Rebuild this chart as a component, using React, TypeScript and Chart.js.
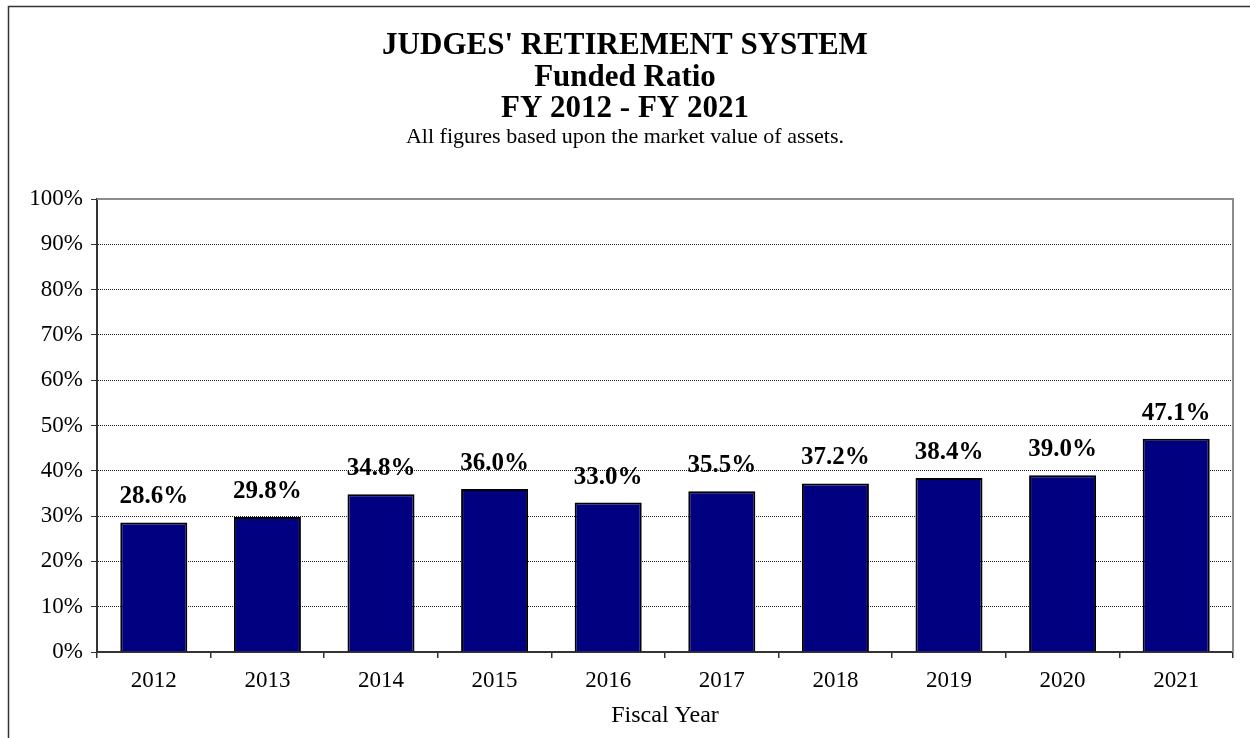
import React, { useEffect, useRef } from "react";
import { Chart, registerables } from "chart.js";

Chart.register(...registerables);

const categories = ["2012", "2013", "2014", "2015", "2016", "2017", "2018", "2019", "2020", "2021"];
const fundedRatio = [28.6, 29.8, 34.8, 36.0, 33.0, 35.5, 37.2, 38.4, 39.0, 47.1];
const titleLines = ["JUDGES' RETIREMENT SYSTEM", "Funded Ratio", "FY 2012 - FY 2021"];
const subtitleText = "All figures based upon the market value of assets.";
const xAxisTitle = "Fiscal Year";

const SERIF = "'Liberation Serif', 'Times New Roman', serif";

const decorPlugin = {
  id: "decor",
  beforeDraw(chart: any) {
    const ctx = chart.ctx;
    ctx.save();
    ctx.fillStyle = "#ffffff";
    ctx.fillRect(0, 0, chart.width, chart.height);
    // outer frame
    ctx.strokeStyle = "#333333";
    ctx.lineWidth = 1.5;
    ctx.strokeRect(8.5, 6.5, chart.width + 20, chart.height + 20);
    // titles
    ctx.fillStyle = "#000000";
    ctx.textAlign = "center";
    ctx.textBaseline = "alphabetic";
    const cx = 625;
    ctx.font = `bold 31px ${SERIF}`;
    titleLines.forEach((t, i) => ctx.fillText(t, cx, 54 + i * 31.5));
    ctx.font = `22px ${SERIF}`;
    ctx.fillText(subtitleText, cx, 143);
    ctx.restore();
  },
  afterDatasetsDraw(chart: any) {
    const ctx = chart.ctx;
    const { left, right, top, bottom } = chart.chartArea;
    ctx.save();
    // plot frame top & right (gray)
    ctx.strokeStyle = "#8c8c8c";
    ctx.lineWidth = 2;
    ctx.beginPath();
    ctx.moveTo(left, top);
    ctx.lineTo(right, top);
    ctx.lineTo(right, bottom);
    ctx.stroke();
    // data labels
    const meta = chart.getDatasetMeta(0);
    ctx.fillStyle = "#000000";
    ctx.font = `bold 25px ${SERIF}`;
    ctx.textAlign = "center";
    ctx.textBaseline = "alphabetic";
    meta.data.forEach((bar: any, i: number) => {
      const v = chart.data.datasets[0].data[i];
      ctx.fillText(v.toFixed(1) + "%", bar.x, bar.y - 19);
    });
    ctx.restore();
  },
};

export default function App() {
  const ref = useRef<HTMLCanvasElement | null>(null);
  useEffect(() => {
    if (!ref.current) return;
    const chart = new Chart(ref.current, {
      type: "bar",
      data: {
        labels: categories,
        datasets: [
          {
            data: fundedRatio,
            backgroundColor: "#000080",
            borderColor: "#000000",
            borderWidth: 2,
            borderSkipped: "bottom",
            barPercentage: 0.59,
            categoryPercentage: 1,
          },
        ],
      },
      plugins: [decorPlugin],
      options: {
        animation: false,
        responsive: false,
        events: [],
        layout: { padding: { left: 0, right: 17, top: 199, bottom: 0 } },
        plugins: {
          legend: { display: false },
          tooltip: { enabled: false },
          title: { display: false },
        },
        scales: {
          x: {
            afterFit(scale: any) {
              scale.height = 86;
            },
            grid: {
              display: true,
              offset: true,
              drawOnChartArea: false,
              drawTicks: true,
              tickLength: 6,
              color: "#333333",
              lineWidth: 1.5,
            },
            border: { display: true, color: "#333333", width: 2 },
            ticks: {
              color: "#000000",
              font: { family: SERIF, size: 23 },
              padding: 9,
            },
            title: {
              display: true,
              text: xAxisTitle,
              color: "#000000",
              font: { family: SERIF, size: 24 },
              padding: { top: 0, bottom: 8 },
            },
          },
          y: {
            min: 0,
            max: 100,
            afterFit(scale: any) {
              scale.width = 97;
            },
            grid: {
              display: true,
              color: "#222222",
              lineWidth: 1,
              drawTicks: true,
              tickLength: 6,
              tickColor: "#333333",
            },
            border: { display: true, color: "#333333", width: 2, dash: [1, 1] },
            ticks: {
              stepSize: 10,
              color: "#000000",
              font: { family: SERIF, size: 23 },
              padding: 8,
              callback: (v: any) => v + "%",
            },
          },
        },
      },
    });
    return () => chart.destroy();
  }, []);
  return (
    <div style={{ position: "fixed", left: 0, top: 0, width: 1250, height: 738, background: "#fff" }}>
      <canvas ref={ref} width={1250} height={738} />
    </div>
  );
}
